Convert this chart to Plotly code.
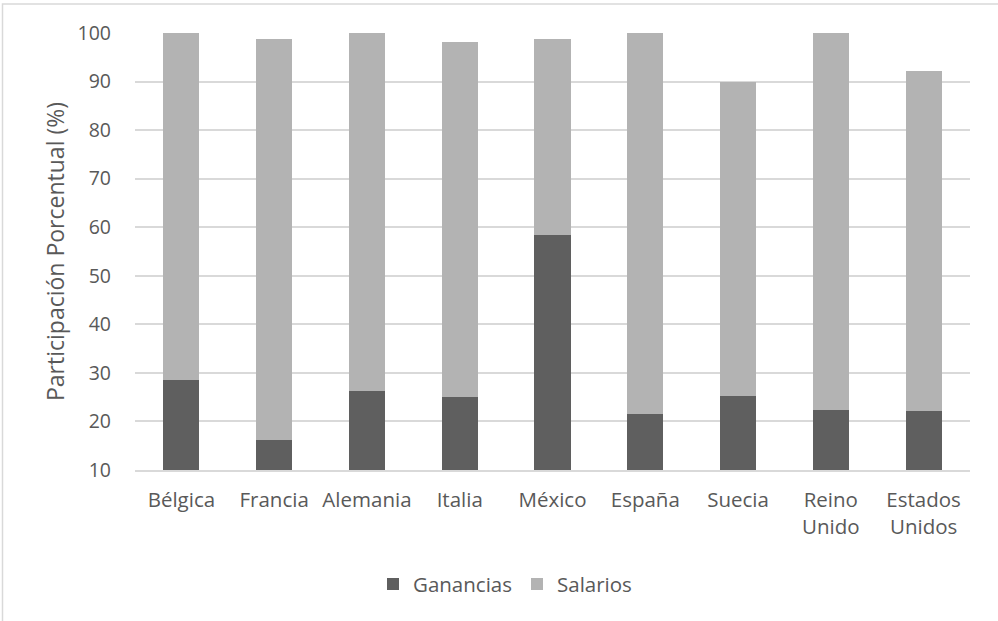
import plotly.graph_objects as go

paises = ["Bélgica", "Francia", "Alemania", "Italia", "México", "España",
          "Suecia", "Reino<br>Unido", "Estados<br>Unidos"]
ganancias = [28.5, 16.1, 26.3, 25.0, 58.4, 21.5, 25.2, 22.3, 22.1]
totales = [100.0, 98.8, 100.0, 98.2, 98.7, 100.0, 90.0, 100.0, 92.2]
salarios = [round(t - g, 1) for t, g in zip(totales, ganancias)]

ticks_y = [10, 20, 30, 40, 50, 60, 70, 80, 90, 100]

W, H = 998, 621
ML, MR, MT, MB = 135, 28, 32.5, 151.3
pw, ph = W - ML - MR, H - MT - MB

texto = "#595959"
fuente = "Open Sans"

fig = go.Figure()
fig.add_trace(go.Bar(x=paises, y=ganancias, name="Ganancias",
                     marker=dict(color="#5f5f5f", line=dict(width=0))))
fig.add_trace(go.Bar(x=paises, y=salarios, name="Salarios",
                     marker=dict(color="#b3b3b3", line=dict(width=0))))

# marco exterior del gráfico
fig.add_shape(type="rect", xref="paper", yref="paper",
              x0=(2.5 - ML) / pw, x1=(W + 20 - ML) / pw,
              y0=(MT + ph - (H + 20)) / ph, y1=(MT + ph - 3.5) / ph,
              line=dict(color="#d9d9d9", width=1.5), fillcolor="rgba(0,0,0,0)",
              layer="below")

fig.update_layout(
    width=W, height=H,
    margin=dict(l=ML, r=MR, t=MT, b=MB),
    barmode="stack", bargap=0.61,
    paper_bgcolor="white", plot_bgcolor="white",
    font=dict(family=fuente, size=20, color=texto),
    showlegend=True,
    legend=dict(orientation="h", x=(505 - ML) / pw, xanchor="center",
                y=(MT + ph - 584) / ph, yanchor="middle",
                font=dict(size=20.5, color=texto), itemwidth=30,
                traceorder="normal"),
    xaxis=dict(showline=True, linecolor="#d9d9d9", linewidth=1.5,
               ticks="", showgrid=False, ticklabelstandoff=11,
               tickfont=dict(size=20.5, color=texto)),
    yaxis=dict(range=[10, 100], tickvals=ticks_y, showgrid=True,
               gridcolor="#d9d9d9", gridwidth=1.5, zeroline=False,
               ticks="", ticklabelstandoff=23,
               tickfont=dict(size=19.5, color=texto),
               title=dict(text="Participación Porcentual (%)",
                          font=dict(size=23, color=texto), standoff=6)),
)

fig.write_html("out.html")
